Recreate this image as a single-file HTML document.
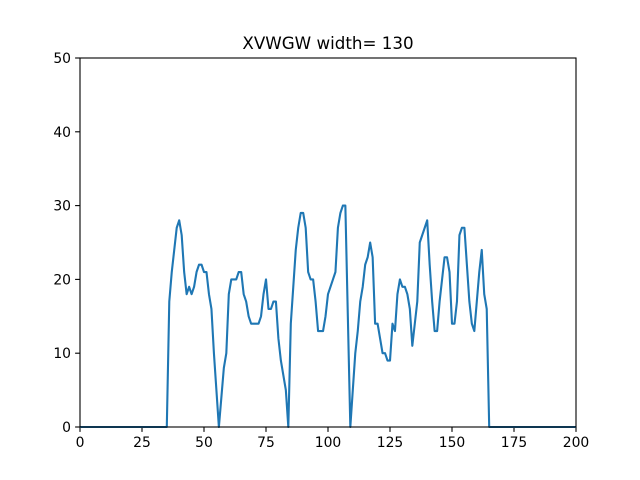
<!DOCTYPE html>
<html><head><meta charset="utf-8"><style>body{margin:0;background:#fff}svg{display:block}text{font-family:"DejaVu Sans","Liberation Sans",sans-serif;fill:#000}</style></head>
<body>
<svg id="chart" width="640" height="480" viewBox="0 0 640 480">
<rect width="640" height="480" fill="#fff"/>
<text x="328" y="49" font-size="16.7" text-anchor="middle">XVWGW width= 130</text>
<g id="plot"></g>
<rect x="80" y="58" width="496" height="369" fill="none" stroke="#000" stroke-width="1.1"/>
</svg>
<script>
const xTicks = [0, 25, 50, 75, 100, 125, 150, 175, 200];
const yTicks = [0, 10, 20, 30, 40, 50];
const startX = 35;
const values = [0,17,21,24,27,28,26,21,18,19,18,19,21,22,22,21,21,18,16,10,5,0,4,8,10,18,20,20,20,21,21,18,17,15,14,14,14,14,15,18,20,16,16,17,17,12,9,7,5,0,14,19,24,27,29,29,27,21,20,20,17,13,13,13,15,18,19,20,21,27,29,30,30,15,0,5,10,13,17,19,22,23,25,23,14,14,12,10,10,9,9,14,13,18,20,19,19,18,16,11,14,17,25,26,27,28,22,17,13,13,17,20,23,23,21,14,14,17,26,27,27,22,17,14,13,17,21,24,18,16,0];
const L=80,R=576,T=58,B=427;
const xs=v=>L+(v-0)/200*(R-L);
const ys=v=>B-(v-0)/50*(B-T);
const NS="http://www.w3.org/2000/svg";
const g=document.getElementById('plot');
function mk(t,a){const e=document.createElementNS(NS,t);for(const k in a)e.setAttribute(k,a[k]);g.appendChild(e);return e;}
xTicks.forEach(v=>{
  const l=mk('line',{x1:xs(v),x2:xs(v),y1:B,y2:B+4.9,stroke:'#000','stroke-width':'1.1'});
  
  
  const t=mk('text',{x:xs(v),y:B+20,'font-size':'13.9','text-anchor':'middle'});
  t.textContent=v;
  
  
});
yTicks.forEach(v=>{
  const l=mk('line',{x1:L-4.9,x2:L,y1:ys(v),y2:ys(v),stroke:'#000','stroke-width':'1.1'});
  
  
  const t=mk('text',{x:L-9,y:ys(v)+5,'font-size':'13.9','text-anchor':'end'});
  t.textContent=v;
  
  
});
const pts=[];
for(let x=0;x<startX;x++)pts.push([x,0]);
values.forEach((v,i)=>pts.push([startX+i,v]));
for(let x=startX+values.length;x<=200;x++)pts.push([x,0]);
const p=mk('polyline',{points:pts.map(q=>xs(q[0]).toFixed(2)+','+ys(q[1]).toFixed(2)).join(' '),fill:'none',stroke:'#1f77b4','stroke-width':'2.1','stroke-linejoin':'round'});


</script>
</body></html>
